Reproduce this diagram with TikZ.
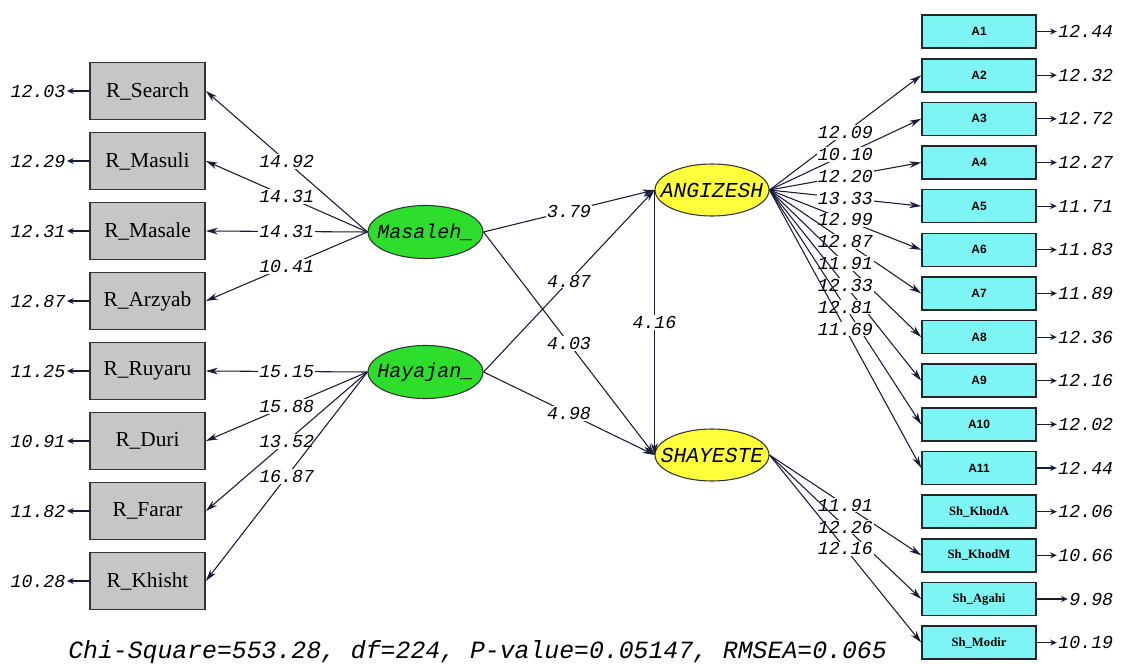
\documentclass[tikz,border=0pt]{standalone}
\usepackage{fontspec}
\setmainfont{Liberation Serif}
\newfontfamily\lmono{Liberation Mono}
\newfontfamily\lsans{Liberation Sans}
\usetikzlibrary{arrows.meta,shapes.geometric}
\definecolor{boxgray}{RGB}{198,198,198}
\definecolor{boxcyan}{RGB}{125,245,245}
\definecolor{latgreen}{RGB}{45,222,45}
\definecolor{latyellow}{RGB}{255,255,60}
\definecolor{linecol}{RGB}{25,25,60}
\tikzset{
  obsgray/.style={draw=black!80, line width=1.3pt, fill=boxgray, minimum width=86.25pt, minimum height=42.75pt, inner sep=0pt, font=\fontsize{16}{17}\selectfont},
  obscyan/.style={draw=black!85, line width=1.2pt, fill=boxcyan, minimum width=85.5pt, minimum height=24.75pt, inner sep=0pt},
  alab/.style={font=\lsans\bfseries\fontsize{9}{10}\selectfont},
  shlab/.style={font=\fontsize{9.5}{10}\selectfont\bfseries},
  latgr/.style={ellipse, draw=black!80, line width=0.8pt, fill=latgreen, minimum width=86.25pt, minimum height=39.75pt, inner sep=0pt, font=\lmono\itshape\fontsize{15}{16}\selectfont},
  latye/.style={ellipse, draw=black!80, line width=0.8pt, fill=latyellow, minimum width=85.5pt, minimum height=39pt, inner sep=0pt, font=\lmono\itshape\fontsize{16}{17}\selectfont},
  conn/.style={draw=linecol, line width=0.8pt, -{Stealth[length=9pt,width=5pt]}},
  tval/.style={fill=white, inner sep=0.8pt, font=\lmono\itshape\fontsize{13.7}{14}\selectfont, text=black},
  errarr/.style={draw=linecol, line width=0.9pt, -{Stealth[length=5pt,width=4.5pt]}},
  errlab/.style={inner sep=1pt, font=\lmono\itshape\fontsize{13.7}{14}\selectfont, text=black},
}
\begin{document}
\begin{tikzpicture}[x=0.75pt,y=-0.75pt]
\useasboundingbox[fill=white] (0,0) rectangle (1121,664);

% left observed variables
\node[obsgray] (r1) at (147.5,91)  {R\_Search};
\node[obsgray] (r2) at (147.5,161) {R\_Masuli};
\node[obsgray] (r3) at (147.5,231) {R\_Masale};
\node[obsgray] (r4) at (147.5,301) {R\_Arzyab};
\node[obsgray] (r5) at (147.5,371) {R\_Ruyaru};
\node[obsgray] (r6) at (147.5,441) {R\_Duri};
\node[obsgray] (r7) at (147.5,511) {R\_Farar};
\node[obsgray] (r8) at (147.5,581) {R\_Khisht};

% left error values
\node[errlab, anchor=east] (e1) at (67,91)  {12.03};
\node[errlab, anchor=east] (e2) at (67,161) {12.29};
\node[errlab, anchor=east] (e3) at (67,231) {12.31};
\node[errlab, anchor=east] (e4) at (67,301) {12.87};
\node[errlab, anchor=east] (e5) at (67,371) {11.25};
\node[errlab, anchor=east] (e6) at (67,441) {10.91};
\node[errlab, anchor=east] (e7) at (67,511) {11.82};
\node[errlab, anchor=east] (e8) at (67,581) {10.28};
\foreach \i in {1,...,8} { \draw[errarr] (r\i.west) -- (e\i.east); }

% right observed variables
\node[obscyan, alab] (a1)  at (979,31.5)  {A1};
\node[obscyan, alab] (a2)  at (979,75.2)  {A2};
\node[obscyan, alab] (a3)  at (979,118.8) {A3};
\node[obscyan, alab] (a4)  at (979,162.5) {A4};
\node[obscyan, alab] (a5)  at (979,206.1) {A5};
\node[obscyan, alab] (a6)  at (979,249.8) {A6};
\node[obscyan, alab] (a7)  at (979,293.4) {A7};
\node[obscyan, alab] (a8)  at (979,337.1) {A8};
\node[obscyan, alab] (a9)  at (979,380.7) {A9};
\node[obscyan, alab] (a10) at (979,424.4) {A10};
\node[obscyan, alab] (a11) at (979,468.0) {A11};
\node[obscyan, shlab] (s1)  at (979,511.7) {Sh\_KhodA};
\node[obscyan, shlab] (s2)  at (979,555.3) {Sh\_KhodM};
\node[obscyan, shlab] (s3)  at (979,599.0) {Sh\_Agahi};
\node[obscyan, shlab] (s4)  at (979,642.6) {Sh\_Modir};

% right error values
\foreach \n/\v in {a1/12.44,a2/12.32,a3/12.72,a4/12.27,a5/11.71,a6/11.83,a7/11.89,a8/12.36,a9/12.16,a10/12.02,a11/12.44,s1/12.06,s2/10.66,s3/9.98,s4/10.19}{
  \node[errlab, anchor=east] (err\n) at ([xshift=58.5pt]\n.east) {\v};
  \draw[errarr] (\n.east) -- (err\n.west);
}

% latent variables
\node[latgr] (mas) at (425.5,232) {\makebox[0pt]{Masaleh\_}};
\node[latgr] (hay) at (425.5,372) {\makebox[0pt]{Hayajan\_}};
\node[latye] (ang) at (712,190) {\makebox[0pt]{ANGIZESH}};
\node[latye] (sha) at (712,455) {\makebox[0pt]{SHAYESTE}};

% loadings Masaleh
\draw[conn] (mas.west) -- node[tval]{14.92} (r1.east);
\draw[conn] (mas.west) -- node[tval]{14.31} (r2.east);
\draw[conn] (mas.west) -- node[tval]{14.31} (r3.east);
\draw[conn] (mas.west) -- node[tval]{10.41} (r4.east);
% loadings Hayajan
\draw[conn] (hay.west) -- node[tval]{15.15} (r5.east);
\draw[conn] (hay.west) -- node[tval]{15.88} (r6.east);
\draw[conn] (hay.west) -- node[tval]{13.52} (r7.east);
\draw[conn] (hay.west) -- node[tval]{16.87} (r8.east);

% structural paths
\draw[conn] (mas.east) -- node[tval]{3.79} (ang.west);
\draw[conn] (mas.east) -- node[tval]{4.03} (sha.west);
\draw[conn] (hay.east) -- node[tval]{4.87} (ang.west);
\draw[conn] (hay.east) -- node[tval]{4.98} (sha.west);
\draw[conn] (ang.west) -- node[tval]{4.16} (sha.west);

% loadings ANGIZESH
\draw[conn] (ang.east) -- node[tval]{12.09} (a2.west);
\draw[conn] (ang.east) -- node[tval]{10.10} (a3.west);
\draw[conn] (ang.east) -- node[tval]{12.20} (a4.west);
\draw[conn] (ang.east) -- node[tval]{13.33} (a5.west);
\draw[conn] (ang.east) -- node[tval]{12.99} (a6.west);
\draw[conn] (ang.east) -- node[tval]{12.87} (a7.west);
\draw[conn] (ang.east) -- node[tval]{11.91} (a8.west);
\draw[conn] (ang.east) -- node[tval]{12.33} (a9.west);
\draw[conn] (ang.east) -- node[tval]{12.81} (a10.west);
\draw[conn] (ang.east) -- node[tval]{11.69} (a11.west);

% loadings SHAYESTE
\draw[conn] (sha.east) -- node[tval]{11.91} (s2.west);
\draw[conn] (sha.east) -- node[tval]{12.26} (s3.west);
\draw[conn] (sha.east) -- node[tval]{12.16} (s4.west);

% fit statistics
\node[font=\lmono\itshape\fontsize{18.6}{19}\selectfont, text=black, inner sep=0pt, anchor=west] (fit) at (68,652) {Chi-Square=553.28, df=224, P-value=0.05147, RMSEA=0.065};
\end{tikzpicture}
\end{document}
